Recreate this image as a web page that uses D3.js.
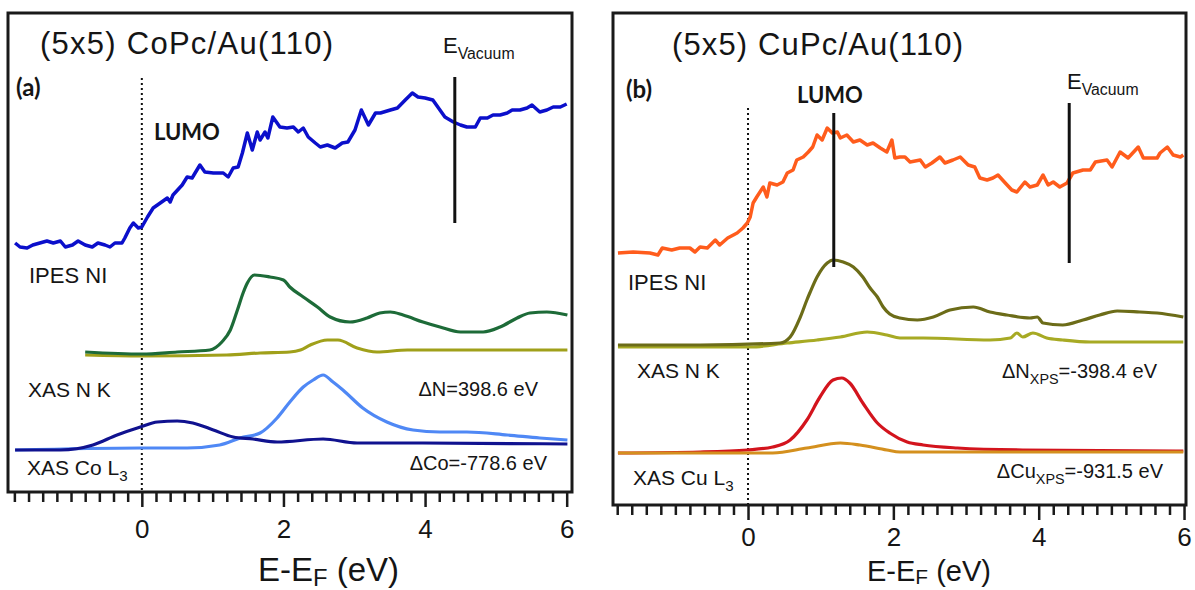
<!DOCTYPE html>
<html>
<head>
<meta charset="utf-8">
<script src="https://cdnjs.cloudflare.com/ajax/libs/d3/7.8.5/d3.min.js"></script>
<style>
body{margin:0;background:#fff}
svg{display:block}
text{font-family:"Liberation Sans",Arial,sans-serif;fill:#151515}
</style>
</head>
<body>
<script>
// energies in eV, intensities in arbitrary units (offset spectra, no y scale shown)
const majorTicks = [0, 2, 4, 6]
const minorTicks = d3.range(-9, 31).map(function(i){ return i * 0.2 })

// (a) CoPc/Au(110)
const coIpes = [[-1.79,249],[-1.72,245],[-1.62,244],[-1.54,247],[-1.44,249],[-1.34,251],[-1.25,249],[-1.15,251],[-1.08,245],[-0.98,247],[-0.90,251],[-0.80,247],[-0.70,245],[-0.62,249],[-0.52,247],[-0.45,245],[-0.38,249],[-0.28,249],[-0.24,254],[-0.17,264],[-0.12,269],[-0.05,264],[0.00,265],[0.08,275],[0.16,284],[0.26,289],[0.36,294],[0.40,290],[0.44,297],[0.57,307],[0.64,315],[0.71,314],[0.82,327],[0.89,320],[1.01,319],[1.15,319],[1.22,315],[1.29,324],[1.36,325],[1.42,339],[1.49,359],[1.56,342],[1.63,360],[1.67,352],[1.74,360],[1.78,354],[1.85,375],[1.95,365],[2.05,364],[2.14,365],[2.21,360],[2.28,364],[2.35,355],[2.45,349],[2.52,345],[2.62,347],[2.73,344],[2.83,349],[2.91,350],[3.01,362],[3.10,382],[3.20,367],[3.30,379],[3.37,379],[3.51,382],[3.61,384],[3.72,392],[3.82,399],[3.90,395],[4.00,394],[4.11,392],[4.21,382],[4.28,375],[4.40,370],[4.50,367],[4.59,365],[4.71,365],[4.78,374],[4.88,374],[4.96,377],[5.06,377],[5.16,379],[5.23,382],[5.34,382],[5.44,384],[5.51,387],[5.62,380],[5.72,382],[5.81,385],[5.91,385],[6.00,388]]
const coNK = [[-0.80,140],[0.00,138],[0.50,140],[0.96,142],[1.13,150],[1.25,162],[1.35,182],[1.43,199],[1.49,209],[1.59,217],[1.81,215],[2.00,212],[2.09,205],[2.28,195],[2.48,185],[2.66,175],[2.94,170],[3.18,174],[3.36,179],[3.51,180],[3.69,177],[3.97,170],[4.21,165],[4.50,160],[4.82,160],[5.06,165],[5.30,174],[5.48,179],[5.72,180],[6.01,177]]
const coNK2 = [[-0.80,137],[0.00,136],[1.20,137],[1.67,139],[2.09,140],[2.24,142],[2.38,147],[2.62,152],[2.77,152],[3.04,144],[3.32,140],[3.75,142],[4.45,142],[6.01,142]]
const coL3 = [[-1.79,42],[-0.02,44],[0.64,44],[1.10,47],[1.39,54],[1.67,59],[1.91,74],[2.09,90],[2.28,105],[2.42,112],[2.56,117],[2.70,110],[2.84,102],[3.12,84],[3.46,70],[3.83,62],[4.21,60],[4.59,60],[5.16,57],[5.62,54],[6.01,52]]
const coL3b = [[-1.79,42],[-1.15,42],[-0.69,47],[-0.35,57],[-0.02,65],[0.22,70],[0.50,71],[0.72,69],[1.01,62],[1.29,55],[1.57,53],[1.91,50],[2.56,53],[3.04,49],[3.97,49],[6.01,48]]

// (b) CuPc/Au(110)
const cuIpes = [[-1.79,252],[-1.58,253],[-1.35,252],[-1.24,250],[-1.18,257],[-1.05,255],[-0.94,257],[-0.80,257],[-0.73,253],[-0.66,258],[-0.56,257],[-0.45,265],[-0.39,260],[-0.28,267],[-0.15,272],[-0.07,277],[-0.01,282],[0.03,288],[0.07,302],[0.12,308],[0.21,318],[0.26,308],[0.30,322],[0.40,320],[0.48,323],[0.54,332],[0.62,335],[0.67,345],[0.76,348],[0.83,353],[0.89,358],[0.95,370],[1.02,365],[1.09,377],[1.16,372],[1.23,373],[1.27,367],[1.36,370],[1.45,363],[1.54,365],[1.64,360],[1.72,362],[1.82,357],[1.91,353],[1.98,365],[2.02,347],[2.09,348],[2.16,348],[2.23,343],[2.37,345],[2.44,338],[2.53,342],[2.64,348],[2.71,342],[2.82,345],[2.92,348],[3.03,340],[3.12,338],[3.19,327],[3.29,325],[3.37,327],[3.44,330],[3.54,322],[3.63,315],[3.70,313],[3.81,323],[3.88,318],[3.98,320],[4.06,330],[4.13,320],[4.20,323],[4.29,318],[4.39,322],[4.47,332],[4.61,335],[4.71,335],[4.78,343],[4.94,345],[5.01,338],[5.12,353],[5.23,347],[5.37,358],[5.44,347],[5.63,347],[5.67,352],[5.77,358],[5.85,350],[5.95,348],[5.99,350]]
const cuNK = [[-1.79,160],[-0.66,160],[0.44,162],[0.58,168],[0.72,188],[0.81,205],[0.85,212],[0.95,228],[1.09,242],[1.17,245],[1.31,243],[1.45,238],[1.58,228],[1.68,217],[1.78,208],[1.86,198],[1.95,191],[2.09,187],[2.33,185],[2.55,188],[2.78,195],[3.10,198],[3.33,193],[3.56,190],[3.88,187],[3.98,188],[4.06,182],[4.33,180],[4.61,185],[4.84,190],[5.08,194],[5.39,193],[5.63,192],[5.99,188]]
const cuNK2 = [[-1.79,158],[0.03,158],[0.54,162],[0.95,165],[1.27,168],[1.64,173],[1.91,170],[2.09,167],[2.41,167],[3.33,165],[3.61,167],[3.70,172],[3.78,168],[3.92,172],[4.11,167],[4.33,165],[4.71,163],[5.99,163]]
const cuL3 = [[-1.79,52],[-0.66,53],[-0.01,55],[0.34,58],[0.58,65],[0.81,85],[0.99,108],[1.17,125],[1.29,127],[1.40,122],[1.58,102],[1.78,82],[1.95,72],[2.19,63],[2.41,60],[2.88,57],[3.78,55],[5.99,54]]
const cuL3b = [[-1.79,52],[0.34,52],[0.81,57],[1.27,62],[1.54,60],[1.91,55],[2.09,53],[3.33,53],[5.99,53]]

const svg = d3.select('body').append('svg')
  .attr('width', 1195)
  .attr('height', 590)

// draws a text with optional subscript parts: parts = [[string, isSub], ...]
function label(g, x, y, parts, size, opts) {
  opts = opts || {}
  var t = g.append('text')
    .attr('x', x).attr('y', y)
    .attr('font-size', size)
    .attr('text-anchor', opts.anchor || 'start')
  if (opts.bold) t.attr('font-weight', 'bold').style('font-family', 'Lato, "Open Sans", sans-serif')
  if (opts.len) t.attr('textLength', opts.len)
  var drop = opts.drop || 0.28
  var prevSub = false
  parts.forEach(function(p) {
    var s = t.append('tspan').text(p[0])
    if (p[1] && !prevSub) s.attr('dy', size * drop).attr('font-size', size * 0.72)
    if (!p[1] && prevSub) s.attr('dy', -size * drop)
    prevSub = p[1]
  })
  return t
}

function drawPanel(p) {
  var x = d3.scaleLinear().domain(p.ev).range([p.x0, p.x1])
  var y = d3.scaleLinear().domain([0, p.y1 - p.y0]).range([p.y1, p.y0])
  var g = svg.append('g')

  var line = d3.line().x(function(d){ return x(d[0]) }).y(function(d){ return y(d[1]) })
  var smooth = d3.line().curve(d3.curveMonotoneX).x(function(d){ return x(d[0]) }).y(function(d){ return y(d[1]) })

  // dotted Fermi level
  g.append('line')
    .attr('x1', x(0)).attr('x2', x(0))
    .attr('y1', y(p.fermiTop)).attr('y2', p.y1)
    .attr('stroke', '#111').attr('stroke-width', 2)
    .attr('stroke-dasharray', '2,3')

  p.series.forEach(function(s) {
    g.append('path')
      .datum(s.data)
      .attr('d', s.noisy ? line : smooth)
      .attr('fill', 'none')
      .attr('stroke', s.color)
      .attr('stroke-width', s.noisy ? 3.5 : 3.2)
      .attr('stroke-linejoin', 'round')
  })

  p.markers.forEach(function(m) {
    g.append('line')
      .attr('x1', x(m[0])).attr('x2', x(m[0]))
      .attr('y1', y(m[1])).attr('y2', y(m[2]))
      .attr('stroke', '#111').attr('stroke-width', 3)
  })

  // frame
  g.append('rect')
    .attr('x', p.x0).attr('y', p.y0)
    .attr('width', p.x1 - p.x0).attr('height', p.y1 - p.y0)
    .attr('fill', 'none').attr('stroke', '#1a1a1a').attr('stroke-width', 3)

  // ticks
  var minor = d3.axisBottom(x).tickValues(minorTicks.filter(function(v){ return majorTicks.indexOf(Math.round(v*10)/10) < 0 }))
    .tickSize(10).tickFormat('')
  var major = d3.axisBottom(x).tickValues(majorTicks).tickSize(15).tickPadding(p.tickPad)
  ;[minor, major].forEach(function(ax) {
    var a = g.append('g').attr('transform', 'translate(0,' + p.y1 + ')').call(ax)
    a.select('.domain').remove()
    a.selectAll('line').attr('stroke', '#1a1a1a').attr('stroke-width', 2.5)
    a.attr('font-size', p.tickFont).attr('font-family', '"Liberation Sans", Arial, sans-serif')
    a.selectAll('text').attr('fill', '#151515')
  })

  p.labels.forEach(function(l) {
    label(g, l.x, l.y, l.parts, l.size, l)
  })
}

drawPanel({
  x0: 8, y0: 13, x1: 572, y1: 492, ev: [-1.89, 6.075],
  tickPad: 13, tickFont: 26, fermiTop: 414,
  series: [
    {data: coNK2, color: '#a0a01a'},
    {data: coNK, color: '#1d6b38'},
    {data: coL3, color: '#4f88f5'},
    {data: coL3b, color: '#10128f'},
    {data: coIpes, color: '#0b0fcb', noisy: true}
  ],
  markers: [[4.42, 415, 269]],
  labels: [
    {x: 40, y: 54, parts: [['(5x5) CoPc/Au(110)']], size: 31, len: 293},
    {x: 443, y: 53, parts: [['E'], ['Vacuum', true]], size: 22},
    {x: 16, y: 96, parts: [['(a)']], size: 24, bold: true},
    {x: 154, y: 140, parts: [['LUMO']], size: 22, bold: true},
    {x: 29, y: 283, parts: [['IPES NI']], size: 22},
    {x: 28, y: 397, parts: [['XAS N K']], size: 21},
    {x: 27, y: 475, parts: [['XAS Co L'], ['3', true]], size: 21},
    {x: 538, y: 396, parts: [['\u0394N=398.6 eV']], size: 20, anchor: 'end'},
    {x: 547, y: 470, parts: [['\u0394Co=-778.6 eV']], size: 20, anchor: 'end'},
    {x: 258, y: 581, parts: [['E-E'], ['F', true], [' (eV)']], size: 33, drop: 0.16}
  ]
})

drawPanel({
  x0: 613, y0: 13, x1: 1186, y1: 505, ev: [-1.858, 6.027],
  tickPad: 8, tickFont: 26, fermiTop: 397,
  series: [
    {data: cuNK2, color: '#a7aa24'},
    {data: cuNK, color: '#6c6c18'},
    {data: cuL3, color: '#d3141d'},
    {data: cuL3b, color: '#d4901e'},
    {data: cuIpes, color: '#ff5c1c', noisy: true}
  ],
  markers: [[4.42, 402, 242], [1.18, 392, 238]],
  labels: [
    {x: 672, y: 55, parts: [['(5x5) CuPc/Au(110)']], size: 31, len: 291},
    {x: 1067, y: 89, parts: [['E'], ['Vacuum', true]], size: 22},
    {x: 626, y: 98, parts: [['(b)']], size: 24, bold: true},
    {x: 797, y: 103, parts: [['LUMO']], size: 22, bold: true},
    {x: 628, y: 290, parts: [['IPES NI']], size: 22},
    {x: 637, y: 378, parts: [['XAS N K']], size: 21},
    {x: 633, y: 485, parts: [['XAS Cu L'], ['3', true]], size: 21},
    {x: 1157, y: 378, parts: [['\u0394N'], ['XPS', true], ['=-398.4 eV']], size: 20, anchor: 'end'},
    {x: 1163, y: 478, parts: [['\u0394Cu'], ['XPS', true], ['=-931.5 eV']], size: 20, anchor: 'end'},
    {x: 867, y: 581, parts: [['E-E'], ['F', true], [' (eV)']], size: 29, drop: 0.12}
  ]
})
</script>
</body>
</html>
